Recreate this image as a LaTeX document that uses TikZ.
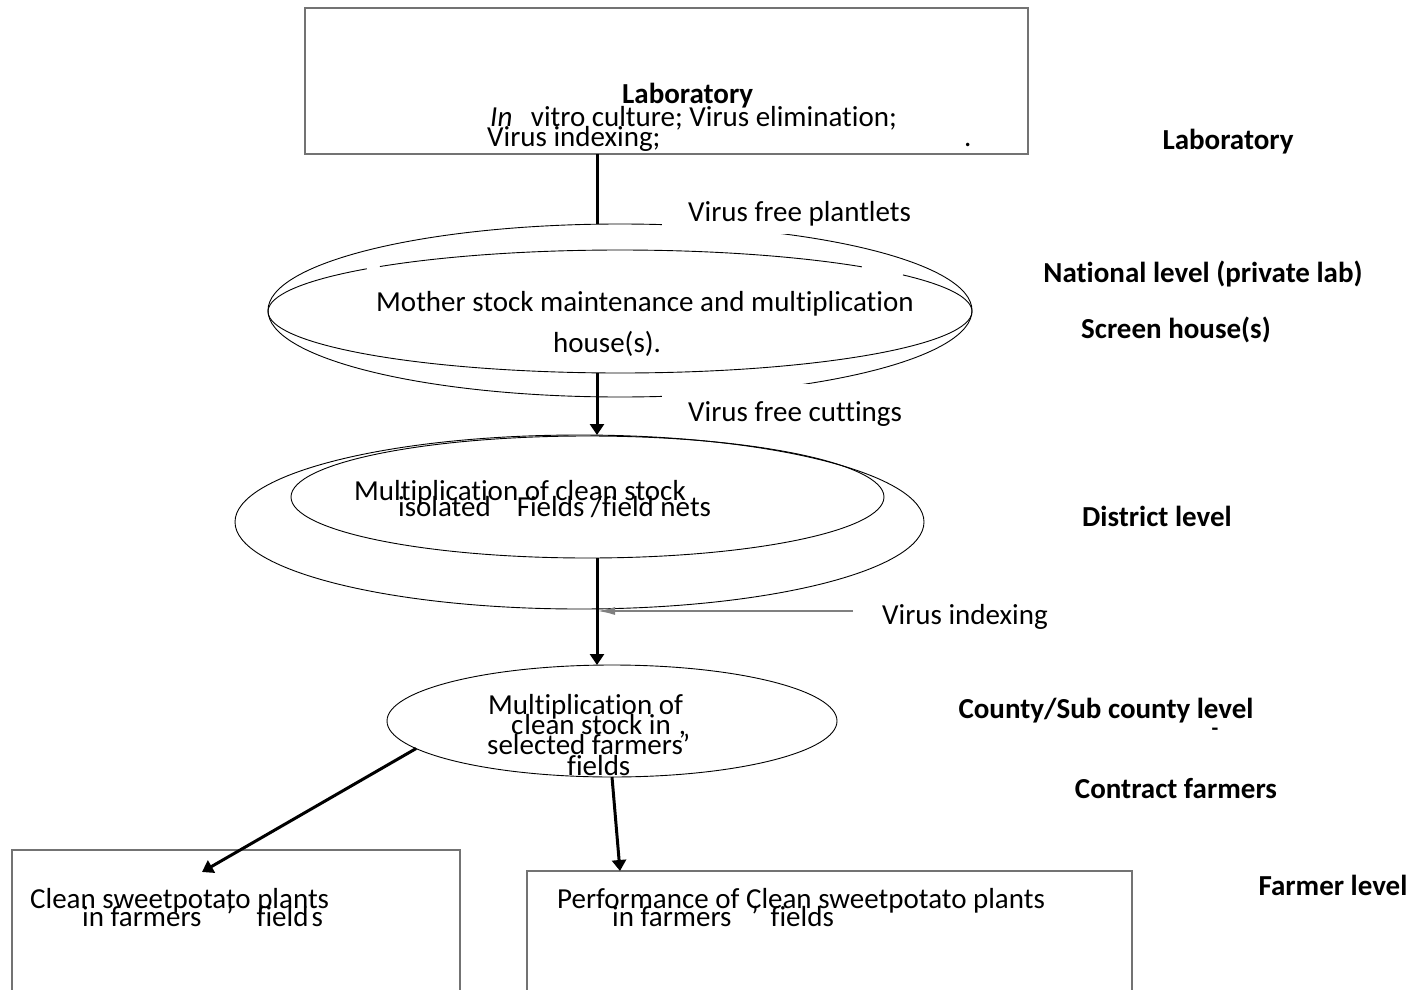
\documentclass[tikz,border=0pt]{standalone}
\usepackage{fontspec}
\setmainfont{Carlito}[Ligatures={NoCommon}]
\usetikzlibrary{arrows.meta,shapes.geometric}
\begin{document}
\begin{tikzpicture}[x=1pt,y=-1pt,
  txt/.style={inner sep=0pt,anchor=base west,font=\fontsize{29pt}{35pt}\selectfont},
  lvl/.style={inner sep=0pt,anchor=base,font=\fontsize{29pt}{35pt}\selectfont\bfseries},
  boxg/.style={draw=black!55,line width=1.2pt,inner sep=0pt,outer sep=0pt},
  ell/.style={ellipse,draw=black,line width=0.9pt,inner sep=0pt,outer sep=0pt},
  flow/.style={line width=3pt,black},
  flowhead/.style={flow,-{Triangle[width=14pt,length=11pt]}},
  grayarr/.style={draw=black!50,line width=2pt,-{Latex[length=18pt,width=8pt]}},
]
\useasboundingbox (0,0) rectangle (1414,990);

% boxes
\node[boxg,minimum width=723pt,minimum height=146pt] (lab) at (666.5,81) {};
\node[boxg,minimum width=448pt,minimum height=170pt,anchor=north west] (lb) at (12,850) {};
\node[boxg,minimum width=605pt,minimum height=150pt,anchor=north west] (rb) at (527,871) {};

% ellipses
\node[ell,minimum width=704pt,minimum height=173pt] (e1o) at (620,310.5) {};
\node[ellipse,inner sep=0pt,outer sep=0pt,minimum width=704pt,minimum height=123pt] (e1i) at (620,311.5) {};
\draw[line width=0.9pt] (e1i.center) ++(227:352 and 61.5) arc[start angle=227,end angle=313.4,x radius=352,y radius=61.5];
\draw[line width=0.9pt] (e1i.center) ++(323.5:352 and 61.5) arc[start angle=323.5,end angle=584,x radius=352,y radius=61.5];
\node[ell,minimum width=689pt,minimum height=174pt] (e2o) at (579.5,522) {};
\node[ell,minimum width=593pt,minimum height=122pt] (e2i) at (587.5,497) {};
\node[ell,minimum width=450pt,minimum height=112pt] (e3) at (612,721) {};

% connectors
\coordinate (cx) at (597,0);
\coordinate (vis) at (853,611);
\coordinate (t4) at (202,872);
\coordinate (t5) at (620,871);
\draw[flow] (cx |- lab.south) -- (cx |- e1o.north);
\draw[flowhead] (cx |- e1i.south) -- (cx |- e2o.north);
\draw[flowhead] (cx |- e2i.south) -- (cx |- e3.north);
\draw[grayarr] (vis) -- (vis -| cx);
\draw[flowhead] (e3.188) -- (t4);
\draw[flowhead] (e3.south) -- (t5);

% labels on arrows
\node[txt,fill=white,inner xsep=26pt,inner ysep=0pt,text height=23pt,text depth=13pt] (vfp) at (662,221) {Virus free plantlets};
\node[txt,fill=white,inner xsep=26pt,inner ysep=0pt,text height=37pt,text depth=3pt] (vfc) at (662,421) {Virus free cuttings};
\node[txt] (vidx) at (882,624) {Virus indexing};

% laboratory box text
\node[txt,font=\fontsize{29pt}{35pt}\selectfont\bfseries] (labt) at (622,103) {Laboratory};
\node[txt] (invt) at (490,126) {\textit{In}\hspace{18.5pt}vitro culture; Virus elimination;};
\node[txt] (vit) at (487,146) {Virus indexing;};
\node[txt] (dot) at (964,146) {.};

% ellipse texts
\node[txt] (m1) at (376,311) {Mother stock maintenance and multiplication};
\node[txt] (m2) at (553,352) {house(s).};
\node[txt] (d1) at (354,500) {Multiplication of clean stock};
\node[txt] (d2) at (398,516) {isolated\hspace{26pt}Fields /field nets};
\node[txt] (c1) at (488,714) {Multiplication of};
\node[txt] (c2) at (511,734) {c\hspace{1pt}lean stock in\hspace{8pt},};
\node[txt] (c3) at (487,754) {selected farmers’};
\node[txt] (c4) at (567,775) {fields};

% bottom box texts
\node[txt] (f1) at (30,908) {Clean sweetpotato plants};
\node[txt] (f2) at (82,926) {in farmers\hspace{25pt}’\hspace{23pt}field\hspace{3pt}s};
\node[txt] (p1) at (557,908) {Performance of Clean sweetpotato plants};
\node[txt] (p2) at (612,926) {in farmers\hspace{20pt}’\hspace{12pt}fields};

% level labels
\node[lvl] (L1) at (1228,149) {Laboratory};
\node[lvl] (L2) at (1203,282) {National level (private lab)};
\node[lvl] (L3) at (1176,338) {Screen house(s)};
\node[lvl] (L4) at (1157,526) {District level};
\node[lvl] (L5) at (1106,718) {County/Sub county level};
\node[inner sep=0pt,font=\fontsize{22pt}{22pt}\selectfont\bfseries] (L5d) at (1215,732) {-};
\node[lvl] (L6) at (1176,798) {Contract farmers};
\node[lvl] (L7) at (1333,895) {Farmer level};
\end{tikzpicture}
\end{document}
